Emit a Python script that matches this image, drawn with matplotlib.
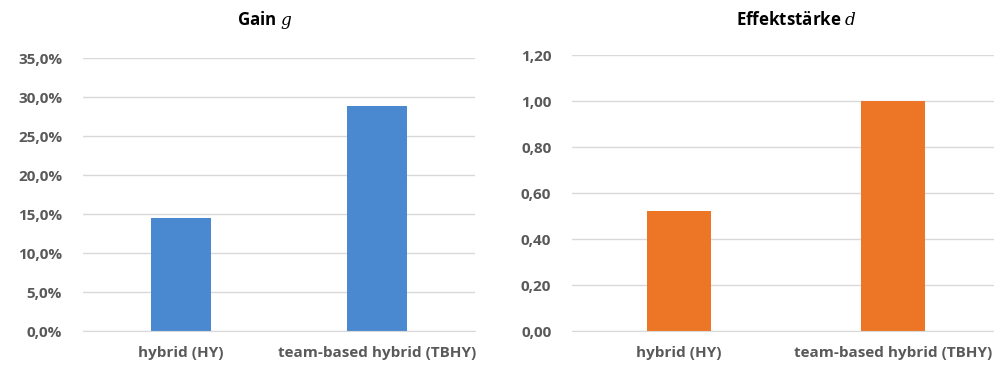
import matplotlib
matplotlib.use('Agg')
import matplotlib.pyplot as plt
from matplotlib.ticker import FuncFormatter

# --- data ---
categories = ['hybrid (HY)', 'team-based hybrid (TBHY)']
gain_values = [0.145, 0.288]
effect_values = [0.52, 1.00]

gain_ticks = [0.0, 0.05, 0.10, 0.15, 0.20, 0.25, 0.30, 0.35]
effect_ticks = [0.0, 0.2, 0.4, 0.6, 0.8, 1.0, 1.2]

BLUE = '#4A89CF'
ORANGE = '#EC7625'
TEXT = '#595959'
GRID = '#D9D9D9'

plt.rcParams['font.family'] = ['Open Sans', 'DejaVu Sans']
plt.rcParams['mathtext.fontset'] = 'dejavuserif'

fig = plt.figure(figsize=(9.95, 3.68), dpi=100)
ax1 = fig.add_axes([0.0834, 0.1005, 0.394, 0.7415])
ax2 = fig.add_axes([0.575, 0.1005, 0.43, 0.75])


def style(ax, ticks, fmt):
    ax.set_yticks(ticks)
    ax.set_ylim(ticks[0], ticks[-1])
    ax.yaxis.set_major_formatter(FuncFormatter(fmt))
    ax.set_xlim(-0.5, 1.5)
    ax.set_xticks(range(len(categories)))
    ax.set_xticklabels(categories)
    ax.grid(axis='y', color=GRID, lw=1)
    ax.set_axisbelow(True)
    for s in ['top', 'right', 'left']:
        ax.spines[s].set_visible(False)
    ax.spines['bottom'].set_color(GRID)
    ax.tick_params(length=0, labelsize=11, labelcolor=TEXT)
    ax.tick_params(axis='y', pad=15)
    ax.tick_params(axis='x', pad=11)
    for lbl in ax.get_xticklabels() + ax.get_yticklabels():
        lbl.set_fontweight('bold')


ax1.bar(range(len(categories)), gain_values, width=0.31, color=BLUE, zorder=2)
style(ax1, gain_ticks, lambda v, p: f'{v * 100:.1f}%'.replace('.', ','))

ax2.bar(range(len(categories)), effect_values, width=0.30, color=ORANGE, zorder=2)
style(ax2, effect_ticks, lambda v, p: f'{v:.2f}'.replace('.', ','))

fig.text(0.266, 0.945, r'Gain $g$', ha='center', va='center',
         fontsize=12.2, fontweight='bold', color='black')
fig.text(0.800, 0.945, r'Effektstärke $d$', ha='center', va='center',
         fontsize=12.2, fontweight='bold', color='black')

fig.savefig('out.png', dpi=100, facecolor='white')
